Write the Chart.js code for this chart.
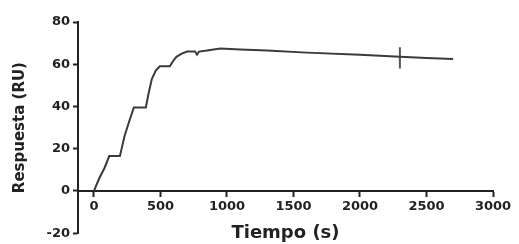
<!DOCTYPE html>
<html>
<head>
<meta charset="utf-8">
<script src="https://cdn.jsdelivr.net/npm/chart.js@4"></script>
<style>
  html, body { margin: 0; padding: 0; background: #fff; }
  #wrap { width: 519px; height: 244px; }
</style>
</head>
<body>
<div id="wrap"><canvas id="grafica"></canvas></div>
<script>
// --- DATOS ---
const tiempo    = [0, 40, 80, 115, 195, 230, 265, 300, 390, 410, 435, 465, 495, 570, 600, 620, 660, 700, 760, 775, 790, 850, 950, 1100, 1300, 1600, 2000, 2300, 2500, 2700];
const respuesta = [0, 6, 11, 16.5, 16.5, 26, 33, 39.5, 39.5, 46, 53, 57, 59, 59, 62, 63.5, 65, 66, 66, 64.5, 66, 66.5, 67.5, 67, 66.5, 65.5, 64.5, 63.5, 63, 62.5];
const marcaT = [2300, 2300];
const marcaR = [58, 68];
const ticksX = [0, 500, 1000, 1500, 2000, 2500, 3000];
const ticksY = [-20, 0, 20, 40, 60, 80];

const fuente = { family: "'DejaVu Sans', sans-serif", weight: 'bold', size: 13 };
const ejeColor = '#222';

new Chart(document.getElementById('grafica'), {
    type: 'scatter',
    data: {
        datasets: [{
            data: tiempo.map((t, i) => ({ x: t, y: respuesta[i] })),
            showLine: true,
            borderColor: '#3a3a3a',
            borderWidth: 2,
            pointRadius: 0,
            tension: 0
        }, {
            data: marcaT.map((t, i) => ({ x: t, y: marcaR[i] })),
            showLine: true,
            borderColor: '#555',
            borderWidth: 2,
            pointRadius: 0
        }]
    },
    options: {
        responsive: true,
        maintainAspectRatio: false,
        animation: false,
        layout: { padding: { left: 0, right: 26, top: 22, bottom: 9 } },
        plugins: { legend: { display: false }, tooltip: { enabled: false } },
        scales: {
            x: {
                type: 'linear',
                position: { y: 0 },
                min: -120, max: 3000,
                afterBuildTicks: s => { s.ticks = ticksX.map(v => ({ value: v })); },
                grid: { display: true, drawOnChartArea: false, drawTicks: true, tickLength: 5, tickColor: ejeColor, tickWidth: 2 },
                border: { color: ejeColor, width: 2 },
                ticks: { color: ejeColor, font: fuente, padding: 3, maxRotation: 0, callback: v => String(v) },
                title: { display: true, text: 'Tiempo (s)', color: ejeColor, font: { ...fuente, size: 18 }, padding: { top: 5 } }
            },
            y: {
                min: -20, max: 80,
                afterBuildTicks: s => { s.ticks = ticksY.map(v => ({ value: v })); },
                afterFit: s => { s.width = 78; },
                grid: { display: true, drawOnChartArea: false, drawTicks: true, tickLength: 5, tickColor: ejeColor, tickWidth: 2 },
                border: { color: ejeColor, width: 2 },
                ticks: { color: ejeColor, font: fuente, padding: 3, callback: v => String(v) },
                title: { display: true, text: 'Respuesta (RU)', color: ejeColor, font: { ...fuente, size: 15 }, padding: { top: 11, bottom: 0 } }
            }
        }
    }
});
</script>
</body>
</html>
